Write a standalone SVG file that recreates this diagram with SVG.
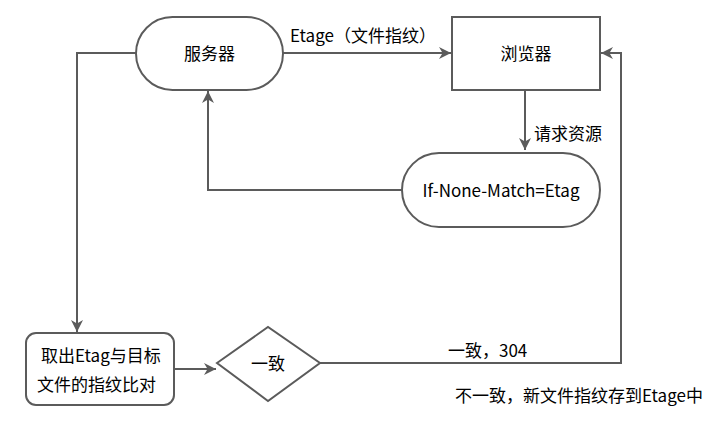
<svg xmlns="http://www.w3.org/2000/svg" width="710" height="428" viewBox="0 0 710 428">
<style>
.s{fill:#fff;stroke:#5b5b5b;stroke-width:2}
.c{fill:none;stroke:#5b5b5b;stroke-width:2}
text{font-family:"Noto Sans CJK SC","Noto Sans",sans-serif;font-size:17px;fill:#000}
</style>
<defs>
<marker id="a" viewBox="0 0 10 10" refX="10" refY="5" markerWidth="6.5" markerHeight="6" orient="auto" markerUnits="strokeWidth">
<path d="M0,0 L10,5 L0,10 L3,5 z" fill="#5b5b5b"/>
</marker>
</defs>
<g id="connectors">
<path class="c" d="M283,53 H451" marker-end="url(#a)"/>
<path class="c" d="M525,90 V150" marker-end="url(#a)"/>
<path class="c" d="M402,190 H208 V91" marker-end="url(#a)"/>
<path class="c" d="M136,53 H77 V332" marker-end="url(#a)"/>
<path class="c" d="M174,369 H216" marker-end="url(#a)"/>
<path class="c" d="M320,363 H621 V53 H601" marker-end="url(#a)"/>
<text x="290" y="42">Etage（文件指纹）</text>
<text x="534" y="140">请求资源</text>
<text x="448" y="357">一致，304</text>
<text x="455" y="402">不一致，新文件指纹存到Etage中</text>
</g>
<g id="server">
<rect class="s" x="136" y="17" width="147" height="73" rx="36.5"/>
<text x="209.5" y="60" text-anchor="middle">服务器</text>
</g>
<g id="browser">
<rect class="s" x="452" y="17" width="148" height="73"/>
<text x="526" y="60" text-anchor="middle">浏览器</text>
</g>
<g id="request">
<rect class="s" x="402" y="153" width="198" height="74" rx="37"/>
<text x="501" y="197" text-anchor="middle">If-None-Match=Etag</text>
</g>
<g id="compare">
<rect class="s" x="26" y="333" width="148" height="72" rx="10"/>
<text x="41" y="362">取出Etag与目标</text>
<text x="37" y="391">文件的指纹比对</text>
</g>
<g id="decision">
<polygon class="s" points="217,363 268,327 320,363 268,401"/>
<text x="268" y="370" text-anchor="middle">一致</text>
</g>
</svg>
